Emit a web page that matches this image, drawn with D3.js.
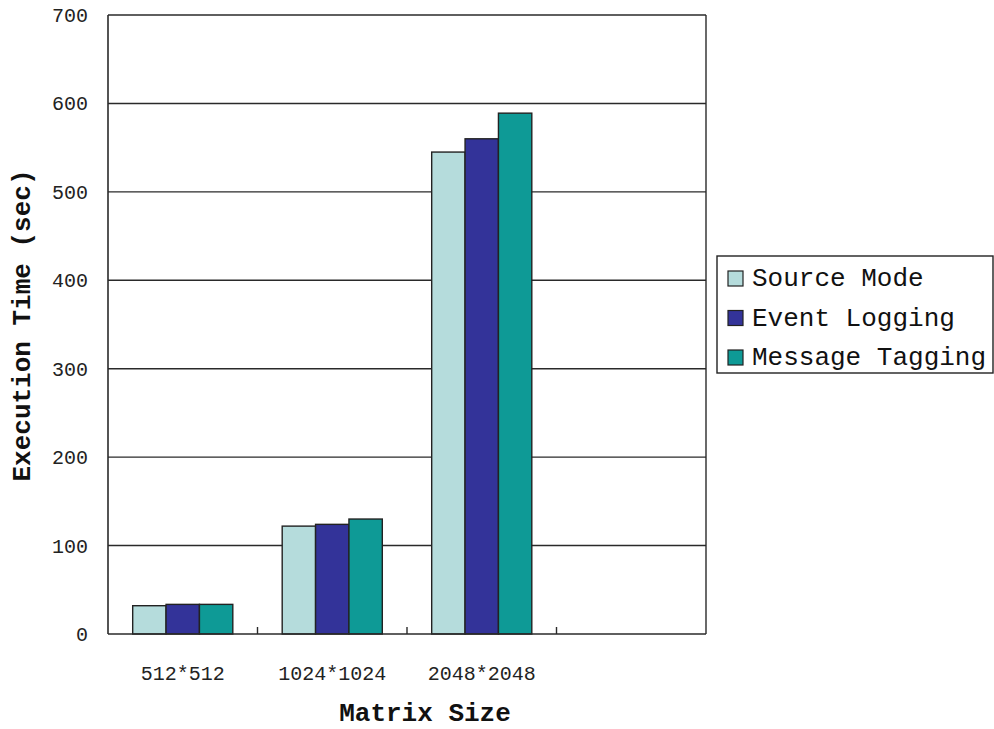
<!DOCTYPE html>
<html><head><meta charset="utf-8">
<script src="https://cdn.jsdelivr.net/npm/d3@7"></script>
<style>html,body{margin:0;padding:0;background:#fff;}</style>
</head><body>
<svg id="c" width="994" height="729"></svg>
<script>
const categories = ["512*512", "1024*1024", "2048*2048"];
const seriesNames = ["Source Mode", "Event Logging", "Message Tagging"];
const sourceMode = [32, 122, 545];
const eventLogging = [33.5, 124, 560];
const messageTagging = [33.5, 130, 589];
const yTicks = [0, 100, 200, 300, 400, 500, 600, 700];
const colors = ["#b5dcdc", "#333399", "#0e9a96"];
const xTitle = "Matrix Size";
const yTitle = "Execution Time (sec)";

const values = [sourceMode, eventLogging, messageTagging];
const svg = d3.select("#c");
const L = 108, R = 706, T = 15, B = 634;
const font = "'Liberation Mono', 'DejaVu Sans Mono', monospace";
const slots = categories.concat(["__empty__"]);

const x0 = d3.scaleBand().domain(slots).range([L, R]).paddingInner(0).paddingOuter(0);
const x1 = d3.scaleBand().domain(seriesNames).range([0, x0.bandwidth()]).paddingInner(0).paddingOuter(0.74);
const y = d3.scaleLinear().domain([0, 700]).range([B, T]);

// gridlines
svg.append("g").selectAll("line").data(yTicks.filter(d => d > 0)).join("line")
  .attr("x1", L).attr("x2", R).attr("y1", d => y(d)).attr("y2", d => y(d))
  .attr("stroke", "#2a2a2a").attr("stroke-width", 1.4);

// bars
const g = svg.append("g");
categories.forEach((c, ci) => {
  seriesNames.forEach((s, si) => {
    g.append("rect")
      .attr("x", x0(c) + x1(s)).attr("width", x1.bandwidth())
      .attr("y", y(values[si][ci])).attr("height", y(0) - y(values[si][ci]))
      .attr("fill", colors[si]).attr("stroke", "#222").attr("stroke-width", 1.4);
  });
});

// frame: left axis, baseline, right border
svg.append("line").attr("x1", L).attr("x2", L).attr("y1", T).attr("y2", B).attr("stroke", "#2a2a2a").attr("stroke-width", 1.6);
svg.append("line").attr("x1", R).attr("x2", R).attr("y1", T).attr("y2", B).attr("stroke", "#2a2a2a").attr("stroke-width", 1.4);
svg.append("line").attr("x1", L).attr("x2", R).attr("y1", B).attr("y2", B).attr("stroke", "#2a2a2a").attr("stroke-width", 1.6);

// x ticks between categories (inward)
const tickPos = slots.slice(1).map(s => x0(s));
svg.append("g").selectAll("line").data(tickPos).join("line")
  .attr("x1", d => d).attr("x2", d => d).attr("y1", B).attr("y2", B - 7)
  .attr("stroke", "#2a2a2a").attr("stroke-width", 1.4);

// y tick labels
svg.append("g").selectAll("text").data(yTicks).join("text")
  .attr("x", 88).attr("y", d => y(d)).attr("dy", "0.35em")
  .attr("text-anchor", "end").attr("font-family", font).attr("font-size", 20)
  .attr("fill", "#222").text(d => d);

// category labels
svg.append("g").selectAll("text").data(categories).join("text")
  .attr("x", d => x0(d) + x0.bandwidth() / 2).attr("y", 680)
  .attr("text-anchor", "middle").attr("font-family", font).attr("font-size", 20)
  .attr("fill", "#222").text(d => d);

// axis titles
svg.append("text").attr("x", 425).attr("y", 721).attr("text-anchor", "middle")
  .attr("font-family", font).attr("font-size", 26).attr("font-weight", "bold")
  .attr("fill", "#111").text(xTitle);
svg.append("text").attr("transform", "translate(30," + ((T + B) / 2 + 1) + ") rotate(-90)")
  .attr("text-anchor", "middle")
  .attr("font-family", font).attr("font-size", 26).attr("font-weight", "bold")
  .attr("fill", "#111").text(yTitle);

// legend
const lg = svg.append("g");
lg.append("rect").attr("x", 717).attr("y", 256).attr("width", 276).attr("height", 117)
  .attr("fill", "#fff").attr("stroke", "#222").attr("stroke-width", 1.4);
seriesNames.forEach((s, i) => {
  const yy = 271 + i * 39.5;
  lg.append("rect").attr("x", 728).attr("y", yy).attr("width", 15).attr("height", 15)
    .attr("fill", colors[i]).attr("stroke", "#222").attr("stroke-width", 1.2);
  lg.append("text").attr("x", 752).attr("y", yy + 15).attr("font-family", font)
    .attr("font-size", 26).attr("fill", "#111").text(s);
});
</script>
</body></html>
